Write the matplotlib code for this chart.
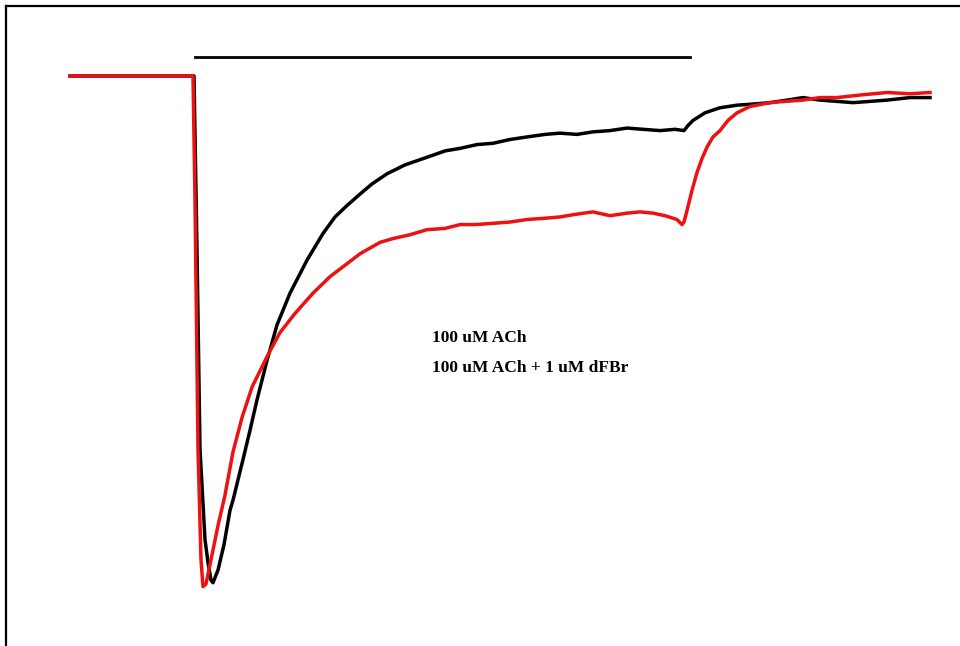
import matplotlib.pyplot as plt

# time (s) and current (nA)
t_ach = [-2.5, -0.02, 0.04, 0.1, 0.2, 0.26, 0.32, 0.36, 0.46, 0.58, 0.7, 0.76, 0.86, 0.96,
         1.1, 1.24, 1.44, 1.64, 1.9, 2.24, 2.56, 2.8, 3.04, 3.3, 3.54, 3.84, 4.2, 4.64,
         5.0, 5.3, 5.64, 5.96, 6.3, 6.64, 7.0, 7.3, 7.64, 7.96, 8.3, 8.64, 8.96, 9.3,
         9.6, 9.78, 9.86, 9.96, 10.2, 10.5, 10.84, 11.2, 11.5, 11.84, 12.16, 12.5,
         12.84, 13.16, 13.5, 13.84, 14.3, 14.7]
i_ach = [0, 0, -1.37, -2.94, -3.65, -3.83, -3.97, -3.99, -3.89, -3.69, -3.42, -3.34,
         -3.18, -3.02, -2.79, -2.55, -2.24, -1.96, -1.71, -1.45, -1.24, -1.11, -1.02,
         -0.93, -0.85, -0.77, -0.70, -0.64, -0.59, -0.57, -0.54, -0.53, -0.50, -0.48,
         -0.46, -0.45, -0.46, -0.44, -0.43, -0.41, -0.42, -0.43, -0.42, -0.43, -0.39,
         -0.35, -0.29, -0.25, -0.23, -0.22, -0.21, -0.19, -0.17, -0.19, -0.20, -0.21,
         -0.20, -0.19, -0.17, -0.17]

t_dfbr = [-2.5, -0.04, 0.0, 0.06, 0.12, 0.16, 0.22, 0.34, 0.46, 0.6, 0.76, 0.94, 1.14,
          1.44, 1.7, 2.0, 2.36, 2.7, 3.0, 3.3, 3.7, 3.96, 4.3, 4.64, 5.0, 5.3, 5.6,
          5.96, 6.3, 6.64, 7.0, 7.3, 7.6, 7.96, 8.3, 8.64, 8.9, 9.16, 9.4, 9.64, 9.74,
          9.78, 9.84, 9.94, 10.04, 10.14, 10.24, 10.36, 10.5, 10.66, 10.84, 11.1, 11.5,
          11.8, 12.16, 12.5, 12.84, 13.3, 13.84, 14.3, 14.7]
i_dfbr = [0, 0, -0.98, -2.94, -3.81, -4.02, -4.0, -3.77, -3.54, -3.30, -2.96, -2.69,
          -2.45, -2.21, -2.02, -1.87, -1.71, -1.58, -1.49, -1.40, -1.31, -1.28, -1.25,
          -1.21, -1.20, -1.17, -1.17, -1.16, -1.15, -1.13, -1.12, -1.11, -1.09, -1.07,
          -1.10, -1.08, -1.07, -1.08, -1.10, -1.13, -1.17, -1.15, -1.06, -0.90, -0.76,
          -0.65, -0.56, -0.48, -0.43, -0.35, -0.29, -0.24, -0.21, -0.20, -0.19, -0.17,
          -0.17, -0.15, -0.13, -0.14, -0.13]

# application bar (s)
bar_start, bar_end, bar_level = 0.0, 9.9, 0.15

labels = ["100 uM ACh", "100 uM ACh + 1 uM dFBr"]

fig = plt.figure(figsize=(9.6, 6.46), dpi=100)
ax = fig.add_axes([6 / 960, 0, 1 - 6 / 960, 1 - 6 / 646])

ax.plot(t_ach, i_ach, color="black", lw=2.5, solid_joinstyle="round")
ax.plot(t_dfbr, i_dfbr, color="#ee1111", lw=2.5, solid_joinstyle="round")
ax.plot([bar_start, bar_end], [bar_level, bar_level], color="black", lw=2)

ax.text(4.74, -2.06, labels[0], fontsize=12.5, fontweight="bold",
        family="Liberation Serif", va="center")
ax.text(4.74, -2.30, labels[1], fontsize=12.5, fontweight="bold",
        family="Liberation Serif", va="center")

ax.set_xlim(-3.78, 15.3)
ax.set_ylim(-4.488, 0.551)
ax.set_xticks([])
ax.set_yticks([])
for s in ["right", "bottom"]:
    ax.spines[s].set_visible(False)
for s in ["top", "left"]:
    ax.spines[s].set_linewidth(1.6)

plt.savefig("out.png", dpi=100)
